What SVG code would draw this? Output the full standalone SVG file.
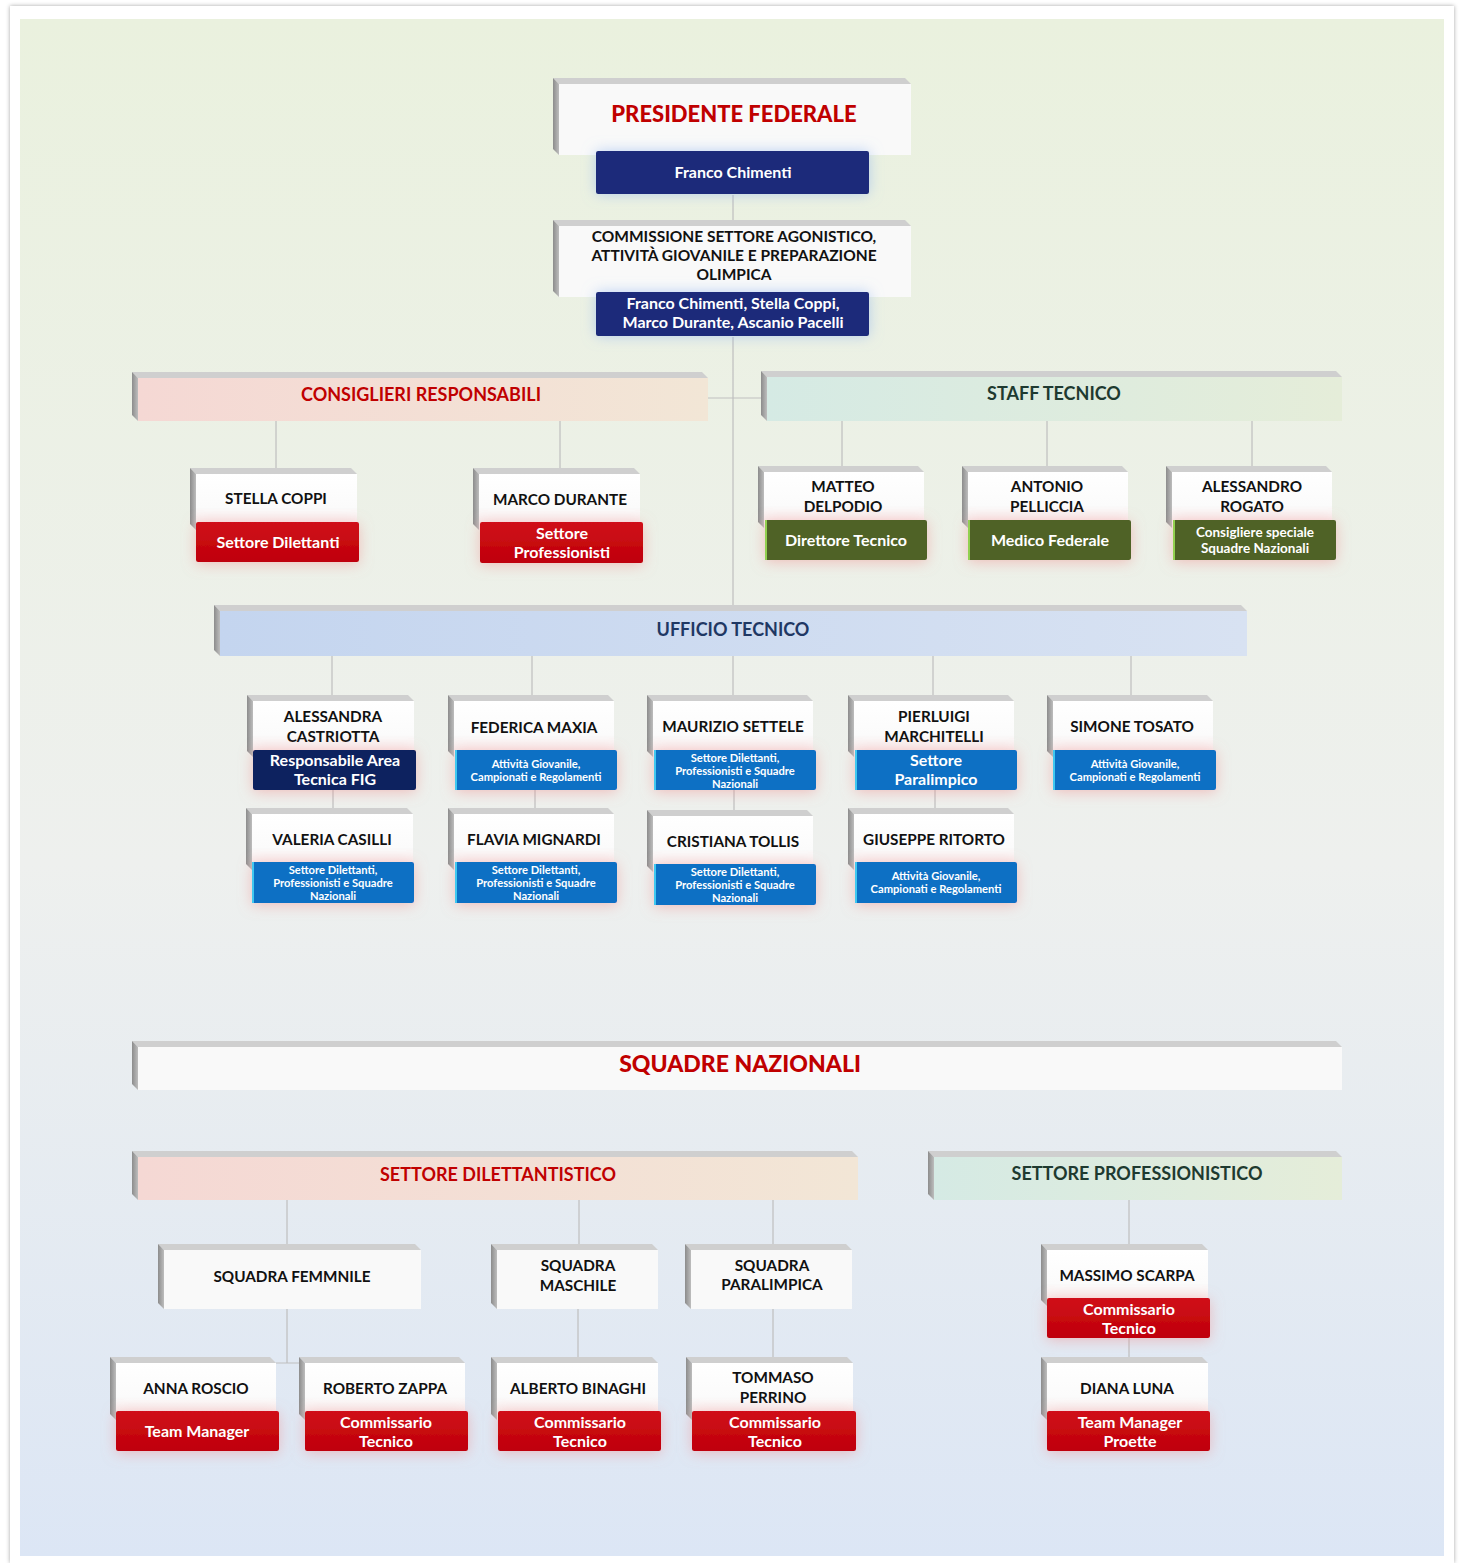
<svg xmlns="http://www.w3.org/2000/svg" width="1464" height="1563" viewBox="0 0 1464 1563">
<defs>
<linearGradient id="bg" x1="0" y1="0" x2="0" y2="1">
<stop offset="0" stop-color="#EAF1DE"/><stop offset="0.55" stop-color="#EEF0EE"/><stop offset="1" stop-color="#DCE6F5"/>
</linearGradient>
<linearGradient id="face" x1="0" y1="0" x2="0" y2="1">
<stop offset="0" stop-color="#FFFFFF"/><stop offset="0.6" stop-color="#FBFBFB"/><stop offset="1" stop-color="#F6E4E4"/>
</linearGradient>
<linearGradient id="leftg" x1="0" y1="0" x2="1" y2="0">
<stop offset="0" stop-color="#8C8C8C"/><stop offset="1" stop-color="#BDBDBD"/>
</linearGradient>
<linearGradient id="pinkg" x1="0" y1="0" x2="1" y2="0">
<stop offset="0" stop-color="#F5D8D4"/><stop offset="1" stop-color="#F2E6D6"/>
</linearGradient>
<linearGradient id="tealg" x1="0" y1="0" x2="1" y2="0">
<stop offset="0" stop-color="#D5EAE4"/><stop offset="1" stop-color="#E5EDD9"/>
</linearGradient>
<linearGradient id="blueg" x1="0" y1="0" x2="1" y2="0">
<stop offset="0" stop-color="#C4D5EF"/><stop offset="1" stop-color="#D8E2F2"/>
</linearGradient>
<linearGradient id="redg" x1="0" y1="0" x2="0" y2="1">
<stop offset="0" stop-color="#D0101A"/><stop offset="1" stop-color="#BF0008"/>
</linearGradient>
<filter id="glowR" x="-30%" y="-80%" width="160%" height="260%">
<feDropShadow dx="0" dy="2" stdDeviation="7" flood-color="#F08A8A" flood-opacity="0.5"/>
</filter>
<filter id="glowB" x="-30%" y="-60%" width="160%" height="220%">
<feDropShadow dx="0" dy="0" stdDeviation="7" flood-color="#8FB4F0" flood-opacity="0.6"/>
</filter>
<filter id="page" x="-5%" y="-5%" width="110%" height="110%">
<feDropShadow dx="0" dy="0" stdDeviation="2" flood-color="#000" flood-opacity="0.35"/>
</filter>
<style>
.top{fill:#CFCFCF}
.left{fill:url(#leftg)}
.face{fill:url(#face)}
.wface{fill:#F9F9F9}
.ln{stroke:#BFBFBF;stroke-width:1.2;fill:none}
text{font-family:Lato,"Open Sans","Liberation Sans",sans-serif;font-weight:700;text-anchor:middle}
.nm{font-size:15.3px;fill:#111111}
.wt{fill:#FFFFFF;font-size:16px}
.sm{fill:#FFFFFF;font-size:11.2px}
.md{fill:#FFFFFF;font-size:13.5px}
.red{fill:url(#redg)}
.navy{fill:#1F2C7A}
.dnavy{fill:#10245E}
.blu{fill:#0A70C4}
.grn{fill:#4F6228}
.hdr{font-size:18px}
.big{font-size:22px;fill:#C00000;font-weight:900}
</style>
</defs>

<g id="background">
<rect x="10" y="6" width="1444" height="1557" fill="#FFFFFF" filter="url(#page)"/>
<rect x="20" y="19" width="1424" height="1537" fill="url(#bg)"/>
</g>

<g id="connectors">
<path class="ln" d="M733 195V220M733 337V605M708 398H761"/>
<path class="ln" d="M276 421V468M560 421V468M842 421V466M1047 421V466M1252 421V466"/>
<path class="ln" d="M332 656V695M532 656V695M733 656V695M933 656V695M1131 656V695"/>
<path class="ln" d="M333 790V808M535 790V808M734 790V810M935 790V808"/>
<path class="ln" d="M287 1200V1244M579 1200V1244M773 1200V1244M1129 1200V1244"/>
<path class="ln" d="M287 1309V1363M276 1363H299M578 1309V1357M773 1309V1357M1129 1338V1357"/>
</g>

<g id="presidente">
<polygon class="top" points="553,78 905,78 911,84 559,84"/>
<polygon class="left" points="553,78 559,84 559,155 553,149"/>
<rect x="559" y="84" width="352" height="71" class="wface"/>
<text x="734" y="122" class="big">PRESIDENTE FEDERALE</text>
<rect x="596" y="151" width="273" height="43" rx="2" class="navy" filter="url(#glowB)"/>
<text x="733" y="178" class="wt">Franco Chimenti</text>
</g>

<g id="commissione">
<polygon class="top" points="553,220 905,220 911,226 559,226"/>
<polygon class="left" points="553,220 559,226 559,297 553,291"/>
<rect x="559" y="226" width="352" height="71" class="wface"/>
<text x="734" y="242" class="nm" style="font-size:15.5px">COMMISSIONE SETTORE AGONISTICO,</text>
<text x="734" y="261" class="nm" style="font-size:15.5px">ATTIVITÀ GIOVANILE E PREPARAZIONE</text>
<text x="734" y="280" class="nm" style="font-size:15.5px">OLIMPICA</text>
<rect x="596" y="292" width="273" height="44" rx="2" class="navy" filter="url(#glowB)"/>
<text x="733" y="309" class="wt">Franco Chimenti, Stella Coppi,</text>
<text x="733" y="328" class="wt">Marco Durante, Ascanio Pacelli</text>
</g>

<g id="consiglieri">
<polygon class="top" points="132,372 702,372 708,378 138,378"/>
<polygon class="left" points="132,372 138,378 138,421 132,415"/>
<rect x="138" y="378" width="570" height="43" fill="url(#pinkg)"/>
<text x="421" y="401" class="hdr" style="fill:#C00000">CONSIGLIERI RESPONSABILI</text>
</g>

<g id="staff">
<polygon class="top" points="761,371 1336,371 1342,377 767,377"/>
<polygon class="left" points="761,371 767,377 767,421 761,415"/>
<rect x="767" y="377" width="575" height="44" fill="url(#tealg)"/>
<text x="1054" y="400" class="hdr" style="fill:#1E3A30">STAFF TECNICO</text>
</g>

<g id="stella-coppi">
<polygon class="top" points="190,468 351,468 357,474 196,474"/>
<polygon class="left" points="190,468 196,474 196,530 190,524"/>
<rect x="196" y="474" width="161" height="56" class="face"/>
<text x="276" y="504" class="nm">STELLA COPPI</text>
<rect x="196" y="522" width="163" height="40" rx="2" class="red" filter="url(#glowR)"/>
<text x="278" y="548" class="wt">Settore Dilettanti</text>
</g>

<g id="marco-durante">
<polygon class="top" points="473,468 634,468 640,474 479,474"/>
<polygon class="left" points="473,468 479,474 479,530 473,524"/>
<rect x="479" y="474" width="161" height="56" class="face"/>
<text x="560" y="505" class="nm">MARCO DURANTE</text>
<rect x="480" y="522" width="163" height="41" rx="2" class="red" filter="url(#glowR)"/>
<text x="562" y="539" class="wt">Settore</text>
<text x="562" y="558" class="wt">Professionisti</text>
</g>

<g id="matteo-delpodio">
<polygon class="top" points="758,466 918,466 924,472 764,472"/>
<polygon class="left" points="758,466 764,472 764,528 758,522"/>
<rect x="764" y="472" width="160" height="56" class="face"/>
<text x="843" y="492" class="nm">MATTEO</text>
<text x="843" y="512" class="nm">DELPODIO</text>
<rect x="765" y="520" width="162" height="40" rx="2" class="grn" filter="url(#glowR)"/>
<rect x="765" y="520" width="2" height="40" fill="#92D050"/>
<text x="846" y="546" class="wt">Direttore Tecnico</text>
</g>

<g id="antonio-pelliccia">
<polygon class="top" points="962,466 1122,466 1128,472 968,472"/>
<polygon class="left" points="962,466 968,472 968,528 962,522"/>
<rect x="968" y="472" width="160" height="56" class="face"/>
<text x="1047" y="492" class="nm">ANTONIO</text>
<text x="1047" y="512" class="nm">PELLICCIA</text>
<rect x="968" y="520" width="163" height="40" rx="2" class="grn" filter="url(#glowR)"/>
<rect x="968" y="520" width="2" height="40" fill="#92D050"/>
<text x="1050" y="546" class="wt">Medico Federale</text>
</g>

<g id="alessandro-rogato">
<polygon class="top" points="1166,466 1326,466 1332,472 1172,472"/>
<polygon class="left" points="1166,466 1172,472 1172,528 1166,522"/>
<rect x="1172" y="472" width="160" height="56" class="face"/>
<text x="1252" y="492" class="nm">ALESSANDRO</text>
<text x="1252" y="512" class="nm">ROGATO</text>
<rect x="1173" y="520" width="163" height="40" rx="2" class="grn" filter="url(#glowR)"/>
<rect x="1173" y="520" width="2" height="40" fill="#92D050"/>
<text x="1255" y="537" class="md">Consigliere speciale</text>
<text x="1255" y="553" class="md">Squadre Nazionali</text>
</g>

<g id="ufficio-tecnico">
<polygon class="top" points="214,605 1241,605 1247,611 220,611"/>
<polygon class="left" points="214,605 220,611 220,656 214,650"/>
<rect x="220" y="611" width="1027" height="45" fill="url(#blueg)"/>
<text x="733" y="636" class="hdr" style="fill:#1F3864">UFFICIO TECNICO</text>
</g>

<g id="alessandra-castriotta">
<polygon class="top" points="247,695 408,695 414,701 253,701"/>
<polygon class="left" points="247,695 253,701 253,757 247,751"/>
<rect x="253" y="701" width="161" height="56" class="face"/>
<text x="333" y="722" class="nm">ALESSANDRA</text>
<text x="333" y="742" class="nm">CASTRIOTTA</text>
<rect x="253" y="750" width="163" height="40" rx="2" class="dnavy" filter="url(#glowR)"/>
<text x="335" y="766" class="wt">Responsabile Area</text>
<text x="335" y="785" class="wt">Tecnica FIG</text>
</g>

<g id="federica-maxia">
<polygon class="top" points="448,695 608,695 614,701 454,701"/>
<polygon class="left" points="448,695 454,701 454,757 448,751"/>
<rect x="454" y="701" width="160" height="56" class="face"/>
<text x="534" y="733" class="nm">FEDERICA MAXIA</text>
<rect x="455" y="750" width="162" height="40" rx="2" class="blu" filter="url(#glowR)"/>
<rect x="455" y="750" width="2" height="40" fill="#40C8F0"/>
<text x="536" y="768" class="sm">Attività Giovanile,</text>
<text x="536" y="781" class="sm">Campionati e Regolamenti</text>
</g>

<g id="maurizio-settele">
<polygon class="top" points="647,695 807,695 813,701 653,701"/>
<polygon class="left" points="647,695 653,701 653,757 647,751"/>
<rect x="653" y="701" width="160" height="56" class="face"/>
<text x="733" y="732" class="nm">MAURIZIO SETTELE</text>
<rect x="654" y="750" width="162" height="40" rx="2" class="blu" filter="url(#glowR)"/>
<rect x="654" y="750" width="2" height="40" fill="#40C8F0"/>
<text x="735" y="762" class="sm">Settore Dilettanti,</text>
<text x="735" y="775" class="sm">Professionisti e Squadre</text>
<text x="735" y="788" class="sm">Nazionali</text>
</g>

<g id="pierluigi-marchitelli">
<polygon class="top" points="848,695 1008,695 1014,701 854,701"/>
<polygon class="left" points="848,695 854,701 854,757 848,751"/>
<rect x="854" y="701" width="160" height="56" class="face"/>
<text x="934" y="722" class="nm">PIERLUIGI</text>
<text x="934" y="742" class="nm">MARCHITELLI</text>
<rect x="855" y="750" width="162" height="40" rx="2" class="blu" filter="url(#glowR)"/>
<rect x="855" y="750" width="2" height="40" fill="#40C8F0"/>
<text x="936" y="766" class="wt">Settore</text>
<text x="936" y="785" class="wt">Paralimpico</text>
</g>

<g id="simone-tosato">
<polygon class="top" points="1047,695 1207,695 1213,701 1053,701"/>
<polygon class="left" points="1047,695 1053,701 1053,757 1047,751"/>
<rect x="1053" y="701" width="160" height="56" class="face"/>
<text x="1132" y="732" class="nm">SIMONE TOSATO</text>
<rect x="1053" y="750" width="163" height="40" rx="2" class="blu" filter="url(#glowR)"/>
<rect x="1053" y="750" width="2" height="40" fill="#40C8F0"/>
<text x="1135" y="768" class="sm">Attività Giovanile,</text>
<text x="1135" y="781" class="sm">Campionati e Regolamenti</text>
</g>

<g id="valeria-casilli">
<polygon class="top" points="246,808 407,808 413,814 252,814"/>
<polygon class="left" points="246,808 252,814 252,870 246,864"/>
<rect x="252" y="814" width="161" height="56" class="face"/>
<text x="332" y="845" class="nm">VALERIA CASILLI</text>
<rect x="252" y="862" width="162" height="41" rx="2" class="blu" filter="url(#glowR)"/>
<rect x="252" y="862" width="2" height="41" fill="#40C8F0"/>
<text x="333" y="874" class="sm">Settore Dilettanti,</text>
<text x="333" y="887" class="sm">Professionisti e Squadre</text>
<text x="333" y="900" class="sm">Nazionali</text>
</g>

<g id="flavia-mignardi">
<polygon class="top" points="448,808 608,808 614,814 454,814"/>
<polygon class="left" points="448,808 454,814 454,870 448,864"/>
<rect x="454" y="814" width="160" height="56" class="face"/>
<text x="534" y="845" class="nm">FLAVIA MIGNARDI</text>
<rect x="455" y="862" width="162" height="41" rx="2" class="blu" filter="url(#glowR)"/>
<rect x="455" y="862" width="2" height="41" fill="#40C8F0"/>
<text x="536" y="874" class="sm">Settore Dilettanti,</text>
<text x="536" y="887" class="sm">Professionisti e Squadre</text>
<text x="536" y="900" class="sm">Nazionali</text>
</g>

<g id="cristiana-tollis">
<polygon class="top" points="647,810 807,810 813,816 653,816"/>
<polygon class="left" points="647,810 653,816 653,872 647,866"/>
<rect x="653" y="816" width="160" height="56" class="face"/>
<text x="733" y="847" class="nm">CRISTIANA TOLLIS</text>
<rect x="654" y="864" width="162" height="41" rx="2" class="blu" filter="url(#glowR)"/>
<rect x="654" y="864" width="2" height="41" fill="#40C8F0"/>
<text x="735" y="876" class="sm">Settore Dilettanti,</text>
<text x="735" y="889" class="sm">Professionisti e Squadre</text>
<text x="735" y="902" class="sm">Nazionali</text>
</g>

<g id="giuseppe-ritorto">
<polygon class="top" points="848,808 1008,808 1014,814 854,814"/>
<polygon class="left" points="848,808 854,814 854,870 848,864"/>
<rect x="854" y="814" width="160" height="56" class="face"/>
<text x="934" y="845" class="nm">GIUSEPPE RITORTO</text>
<rect x="855" y="862" width="162" height="41" rx="2" class="blu" filter="url(#glowR)"/>
<rect x="855" y="862" width="2" height="41" fill="#40C8F0"/>
<text x="936" y="880" class="sm">Attività Giovanile,</text>
<text x="936" y="893" class="sm">Campionati e Regolamenti</text>
</g>

<g id="squadre-nazionali">
<polygon class="top" points="132,1041 1336,1041 1342,1047 138,1047"/>
<polygon class="left" points="132,1041 138,1047 138,1090 132,1084"/>
<rect x="138" y="1047" width="1204" height="43" fill="#F9F9F9"/>
<text x="740" y="1072" class="big" style="font-size:23px">SQUADRE NAZIONALI</text>
</g>

<g id="settore-dilettantistico">
<polygon class="top" points="132,1151 852,1151 858,1157 138,1157"/>
<polygon class="left" points="132,1151 138,1157 138,1200 132,1194"/>
<rect x="138" y="1157" width="720" height="43" fill="url(#pinkg)"/>
<text x="498" y="1181" class="hdr" style="fill:#C00000">SETTORE DILETTANTISTICO</text>
</g>

<g id="settore-professionistico">
<polygon class="top" points="928,1151 1336,1151 1342,1157 934,1157"/>
<polygon class="left" points="928,1151 934,1157 934,1200 928,1194"/>
<rect x="934" y="1157" width="408" height="43" fill="url(#tealg)"/>
<text x="1137" y="1180" class="hdr" style="fill:#1E3A30">SETTORE PROFESSIONISTICO</text>
</g>

<g id="squadra-femminile">
<polygon class="top" points="158,1244 415,1244 421,1250 164,1250"/>
<polygon class="left" points="158,1244 164,1250 164,1309 158,1303"/>
<rect x="164" y="1250" width="257" height="59" fill="#F9F9F9"/>
<text x="292" y="1282" class="nm">SQUADRA FEMMNILE</text>
</g>

<g id="squadra-maschile">
<polygon class="top" points="491,1244 652,1244 658,1250 497,1250"/>
<polygon class="left" points="491,1244 497,1250 497,1309 491,1303"/>
<rect x="497" y="1250" width="161" height="59" fill="#F9F9F9"/>
<text x="578" y="1271" class="nm">SQUADRA</text>
<text x="578" y="1291" class="nm">MASCHILE</text>
</g>

<g id="squadra-paralimpica">
<polygon class="top" points="685,1244 846,1244 852,1250 691,1250"/>
<polygon class="left" points="685,1244 691,1250 691,1309 685,1303"/>
<rect x="691" y="1250" width="161" height="59" fill="#F9F9F9"/>
<text x="772" y="1271" class="nm">SQUADRA</text>
<text x="772" y="1290" class="nm">PARALIMPICA</text>
</g>

<g id="anna-roscio">
<polygon class="top" points="110,1357 270,1357 276,1363 116,1363"/>
<polygon class="left" points="110,1357 116,1363 116,1420 110,1414"/>
<rect x="116" y="1363" width="160" height="57" class="face"/>
<text x="196" y="1394" class="nm">ANNA ROSCIO</text>
<rect x="116" y="1411" width="163" height="40" rx="2" class="red" filter="url(#glowR)"/>
<text x="197" y="1437" class="wt">Team Manager</text>
</g>

<g id="roberto-zappa">
<polygon class="top" points="299,1357 459,1357 465,1363 305,1363"/>
<polygon class="left" points="299,1357 305,1363 305,1420 299,1414"/>
<rect x="305" y="1363" width="160" height="57" class="face"/>
<text x="385" y="1394" class="nm">ROBERTO ZAPPA</text>
<rect x="305" y="1411" width="163" height="40" rx="2" class="red" filter="url(#glowR)"/>
<text x="386" y="1428" class="wt">Commissario</text>
<text x="386" y="1447" class="wt">Tecnico</text>
</g>

<g id="alberto-binaghi">
<polygon class="top" points="491,1357 652,1357 658,1363 497,1363"/>
<polygon class="left" points="491,1357 497,1363 497,1420 491,1414"/>
<rect x="497" y="1363" width="161" height="57" class="face"/>
<text x="578" y="1394" class="nm">ALBERTO BINAGHI</text>
<rect x="498" y="1411" width="163" height="40" rx="2" class="red" filter="url(#glowR)"/>
<text x="580" y="1428" class="wt">Commissario</text>
<text x="580" y="1447" class="wt">Tecnico</text>
</g>

<g id="tommaso-perrino">
<polygon class="top" points="686,1357 847,1357 853,1363 692,1363"/>
<polygon class="left" points="686,1357 692,1363 692,1420 686,1414"/>
<rect x="692" y="1363" width="161" height="57" class="face"/>
<text x="773" y="1383" class="nm">TOMMASO</text>
<text x="773" y="1403" class="nm">PERRINO</text>
<rect x="692" y="1411" width="164" height="40" rx="2" class="red" filter="url(#glowR)"/>
<text x="775" y="1428" class="wt">Commissario</text>
<text x="775" y="1447" class="wt">Tecnico</text>
</g>

<g id="massimo-scarpa">
<polygon class="top" points="1041,1244 1202,1244 1208,1250 1047,1250"/>
<polygon class="left" points="1041,1244 1047,1250 1047,1306 1041,1300"/>
<rect x="1047" y="1250" width="161" height="56" class="face"/>
<text x="1127" y="1281" class="nm">MASSIMO SCARPA</text>
<rect x="1047" y="1298" width="163" height="40" rx="2" class="red" filter="url(#glowR)"/>
<text x="1129" y="1315" class="wt">Commissario</text>
<text x="1129" y="1334" class="wt">Tecnico</text>
</g>

<g id="diana-luna">
<polygon class="top" points="1041,1357 1202,1357 1208,1363 1047,1363"/>
<polygon class="left" points="1041,1357 1047,1363 1047,1420 1041,1414"/>
<rect x="1047" y="1363" width="161" height="57" class="face"/>
<text x="1127" y="1394" class="nm">DIANA LUNA</text>
<rect x="1047" y="1411" width="163" height="40" rx="2" class="red" filter="url(#glowR)"/>
<text x="1130" y="1428" class="wt">Team Manager</text>
<text x="1130" y="1447" class="wt">Proette</text>
</g>
</svg>
